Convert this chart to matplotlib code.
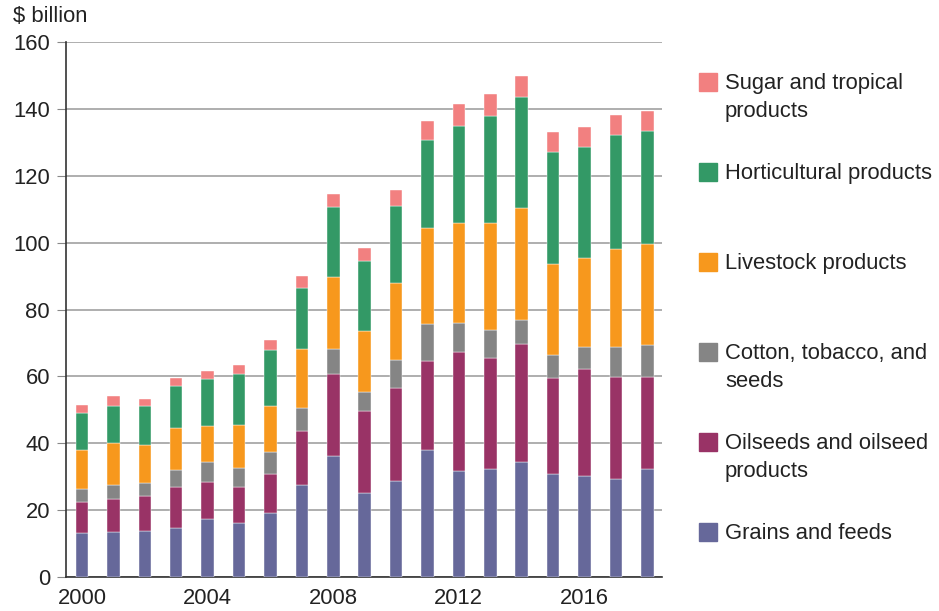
import matplotlib
matplotlib.use("Agg")
import matplotlib.pyplot as plt
from matplotlib.patches import Rectangle
import numpy as np

plt.rcParams["font.family"] = ["Liberation Sans", "DejaVu Sans"]

years = list(range(2000, 2019))

grains = [13.2, 13.4, 13.9, 14.7, 17.3, 16.2, 19.0, 27.6, 36.3, 25.1,
          28.7, 38.1, 31.6, 32.2, 34.5, 30.7, 30.1, 29.3, 32.4]
oilseeds = [9.3, 9.9, 10.4, 12.3, 11.1, 10.8, 11.7, 16.1, 24.3, 24.4,
            27.8, 26.6, 35.7, 33.3, 35.3, 28.9, 32.1, 30.6, 27.5]
cotton = [3.9, 4.1, 3.9, 5.1, 6.1, 5.6, 6.7, 6.8, 7.5, 5.8,
          8.4, 11.0, 8.7, 8.4, 7.1, 6.7, 6.7, 8.9, 9.4]
livestock = [11.7, 12.6, 11.3, 12.6, 10.7, 12.8, 13.7, 17.6, 21.7, 18.4,
             22.9, 28.6, 29.9, 32.0, 33.6, 27.4, 26.5, 29.2, 30.2]
horticulture = [10.9, 11.2, 11.5, 12.3, 13.9, 15.3, 16.9, 18.3, 20.9, 20.7,
                23.2, 26.3, 29.1, 32.1, 33.2, 33.3, 33.3, 34.2, 34.0]
sugar = [2.5, 2.8, 2.3, 2.5, 2.6, 2.8, 3.0, 3.7, 3.9, 4.1,
         4.8, 5.8, 6.5, 6.4, 6.2, 6.0, 5.9, 6.0, 5.9]

series = [grains, oilseeds, cotton, livestock, horticulture, sugar]
labels = ["Grains and feeds", "Oilseeds and oilseed\nproducts",
          "Cotton, tobacco, and\nseeds", "Livestock products",
          "Horticultural products", "Sugar and tropical\nproducts"]
colors = ["#66689a", "#993366", "#858585", "#f7981d", "#339966", "#f28080"]

TXT = "#222222"
FS = 15.8

W, H = 939, 611
fig = plt.figure(figsize=(W / 100, H / 100), dpi=100)
ax = fig.add_axes([66 / W, 1 - 577 / H, (662 - 66) / W, (577 - 42) / H])

bottom = np.zeros(len(years))
for vals, c in zip(series, colors):
    ax.bar(years, vals, 0.4, bottom=bottom, color=c, edgecolor="white",
           linewidth=0.3, zorder=3)
    bottom += np.array(vals)

ax.set_xlim(1999.49, 2018.47)
ax.set_ylim(0, 160)
ax.set_yticks(range(0, 161, 20))
ax.set_xticks([2000, 2004, 2008, 2012, 2016])
ax.grid(axis="y", color="#a8a8a8", linewidth=1.3, zorder=0)
for s in ["top", "right"]:
    ax.spines[s].set_visible(False)
for s in ["left", "bottom"]:
    ax.spines[s].set_color("#333333")
    ax.spines[s].set_linewidth(1.2)
ax.tick_params(axis="y", length=6.5, color="#888888", labelsize=FS,
               labelcolor=TXT, pad=5)
ax.tick_params(axis="x", length=0, labelsize=FS, labelcolor=TXT, pad=8)

fig.text(13 / W, 1 - 17 / H, "$ billion", fontsize=FS, color=TXT,
         va="center", ha="left")

# legend, drawn by hand: top entry first
for i, (lab, c) in enumerate(zip(labels[::-1], colors[::-1])):
    yc = 81.7 + 90 * i
    fig.patches.append(Rectangle((699 / W, 1 - (yc + 9) / H), 18 / W, 18 / H,
                                 transform=fig.transFigure, color=c))
    for j, line in enumerate(lab.split("\n")):
        fig.text(725 / W, 1 - (yc + 7 + 28 * j) / H, line, fontsize=FS,
                 color=TXT, va="baseline", ha="left")

fig.savefig("out.png", dpi=100)
